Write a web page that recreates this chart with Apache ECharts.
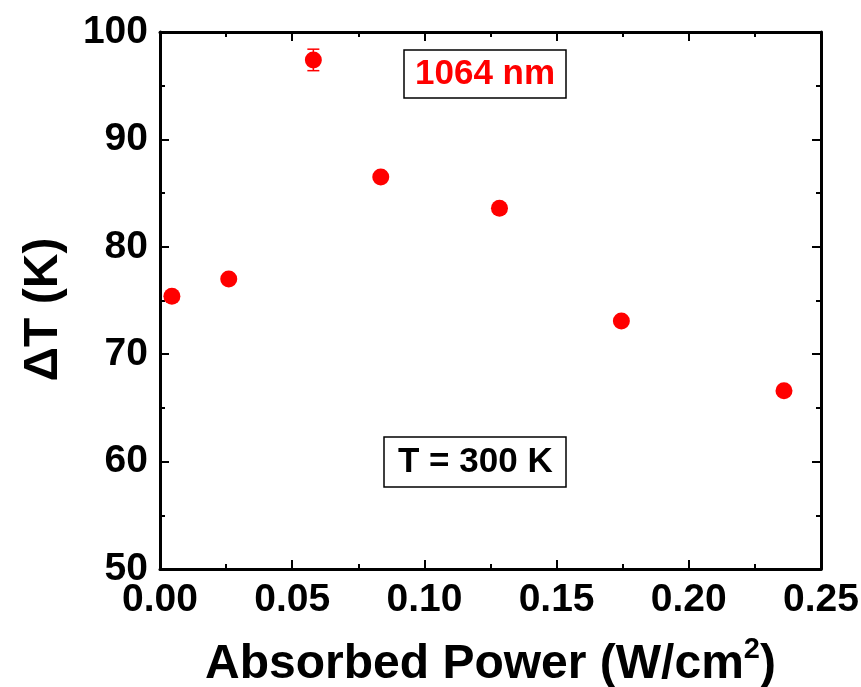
<!DOCTYPE html>
<html><head><meta charset="utf-8">
<script src="https://cdn.jsdelivr.net/npm/echarts@6/dist/echarts.min.js"></script>
<style>html,body{margin:0;padding:0;background:#fff}#c{width:861px;height:687px}</style>
</head><body><div id="c"></div>
<script>
// Data
const power = [0.0045, 0.026, 0.058, 0.0835, 0.1284, 0.1745, 0.236];
const deltaT = [75.4, 77.0, 97.4, 86.5, 83.6, 73.1, 66.6];
const deltaTErr = [0.3, 0.3, 1.0, 0.4, 0.3, 0.3, 0.3];
const xRange = [0, 0.25, 0.05];
const yRange = [50, 100, 10];
const wavelengthLabel = '1064 nm';
const tempLabel = 'T = 300 K';

const FONT = 'Liberation Sans, Arial, sans-serif';
const pts = power.map((p, i) => [p, deltaT[i]]);
const errData = power.map((p, i) => [p, deltaT[i] - deltaTErr[i], deltaT[i] + deltaTErr[i]]);

function axisCommon() {
  return {
    axisLine: { show: true, onZero: false, lineStyle: { color: '#000', width: 3 } },
    axisTick: { show: true, inside: true, length: 9, lineStyle: { color: '#000', width: 2 } },
    minorTick: { show: true, splitNumber: 2, length: 5, lineStyle: { color: '#000', width: 2 } },
    splitLine: { show: false },
    minorSplitLine: { show: false }
  };
}

const chart = echarts.init(document.getElementById('c'), null, { renderer: 'canvas' });
chart.setOption({
  backgroundColor: '#fff',
  animation: false,
  title: [
    { text: wavelengthLabel, left: 404, top: 50, padding: [6, 11, 6, 11], borderColor: '#000', borderWidth: 1.5,
      textStyle: { color: '#ff0000', fontFamily: FONT, fontWeight: 'bold', fontSize: 35, lineHeight: 36 } },
    { text: tempLabel, left: 384, top: 437, padding: [7, 14, 7, 14], borderColor: '#000', borderWidth: 1.5,
      textStyle: { color: '#000', fontFamily: FONT, fontWeight: 'bold', fontSize: 35, lineHeight: 36 } }
  ],
  grid: { left: 160, right: 40, top: 32, bottom: 118, containLabel: false, outerBoundsMode: 'none' },
  xAxis: [
    Object.assign(axisCommon(), {
      type: 'value', position: 'bottom', min: xRange[0], max: xRange[1], interval: xRange[2],
      name: 'Absorbed Power (W/cm{sup|2})', nameLocation: 'middle', nameGap: 66,
      nameTextStyle: { color: '#000', fontFamily: FONT, fontWeight: 'bold', fontSize: 48,
        rich: { sup: { fontFamily: FONT, fontWeight: 'bold', fontSize: 29, verticalAlign: 'top', padding: [0, 0, 30, 0], color: '#000' } } },
      axisLabel: { show: true, margin: 12, color: '#000', fontFamily: FONT, fontWeight: 'bold', fontSize: 39,
        formatter: v => v.toFixed(2) }
    }),
    Object.assign(axisCommon(), {
      type: 'value', position: 'top', min: xRange[0], max: xRange[1], interval: xRange[2],
      axisLabel: { show: false }
    })
  ],
  yAxis: [
    Object.assign(axisCommon(), {
      type: 'value', position: 'left', min: yRange[0], max: yRange[1], interval: yRange[2],
      name: '\u0394T (K)', nameLocation: 'middle', nameGap: 92, nameRotate: 90,
      nameTextStyle: { color: '#000', fontFamily: FONT, fontWeight: 'bold', fontSize: 48, padding: [0, 18, 0, 0] },
      axisLabel: { show: true, margin: 12, color: '#000', fontFamily: FONT, fontWeight: 'bold', fontSize: 39 }
    }),
    Object.assign(axisCommon(), {
      type: 'value', position: 'right', min: yRange[0], max: yRange[1], interval: yRange[2],
      axisLabel: { show: false }
    })
  ],
  series: [
    {
      type: 'custom', xAxisIndex: 0, yAxisIndex: 0, data: errData, z: 2,
      renderItem: function (params, api) {
        const top = api.coord([api.value(0), api.value(2)]);
        const bot = api.coord([api.value(0), api.value(1)]);
        const w = 6;
        const st = { stroke: '#ff0000', lineWidth: 1.5 };
        return { type: 'group', children: [
          { type: 'line', shape: { x1: top[0], y1: top[1], x2: bot[0], y2: bot[1] }, style: st },
          { type: 'line', shape: { x1: top[0] - w, y1: top[1], x2: top[0] + w, y2: top[1] }, style: st },
          { type: 'line', shape: { x1: bot[0] - w, y1: bot[1], x2: bot[0] + w, y2: bot[1] }, style: st }
        ] };
      }
    },
    {
      type: 'scatter', xAxisIndex: 0, yAxisIndex: 0, data: pts, z: 3,
      symbol: 'circle', symbolSize: 17,
      itemStyle: { color: '#ff0000', opacity: 1 }
    }
  ]
});
</script>
</body></html>
